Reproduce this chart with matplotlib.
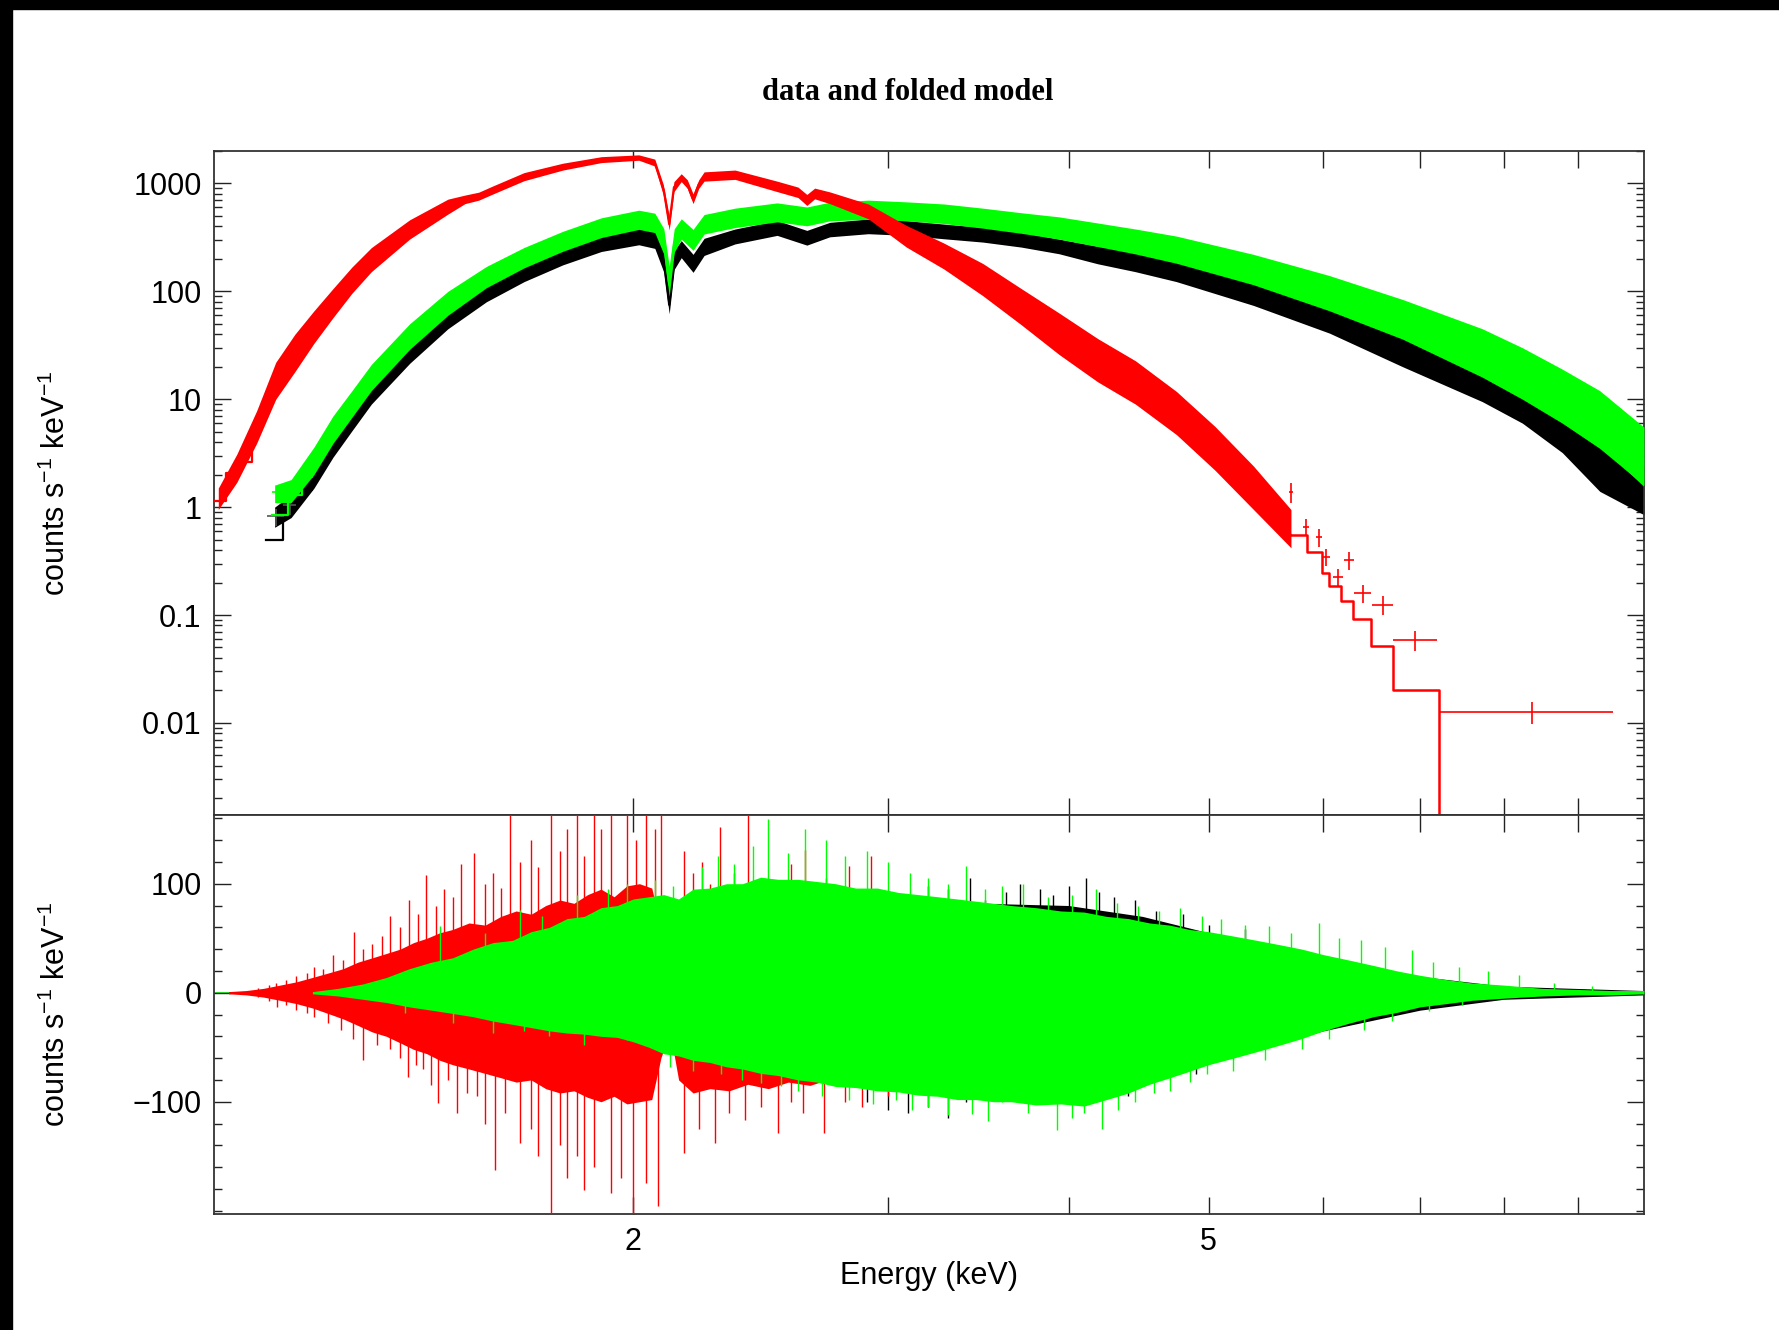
import matplotlib.pyplot as plt
from matplotlib.patches import Rectangle
from matplotlib.ticker import FixedLocator, NullLocator, LogLocator, FuncFormatter, MultipleLocator

plt.rcParams['font.family'] = 'Liberation Sans'
plt.rcParams['mathtext.fontset'] = 'custom'
plt.rcParams['mathtext.rm'] = 'Liberation Sans'
plt.rcParams['mathtext.it'] = 'Liberation Sans'

# ---- upper panel: data bands (lower / upper edge of the error bars) ----
band_E = [1.13, 1.16, 1.203, 1.24, 1.278, 1.318, 1.401, 1.489, 1.583, 1.681,
          1.788, 1.901, 2.018, 2.07, 2.10, 2.118, 2.135, 2.159, 2.20, 2.239,
          2.352, 2.515, 2.637, 2.735, 2.908, 3.09, 3.28, 3.49, 3.71, 3.94,
          4.19, 4.45, 4.75, 5.37, 6.06, 6.81, 7.73, 8.24, 8.78, 9.32, 10.0]
black_lo = [0.65, 0.8, 1.5, 2.9, 5.1, 9.0, 21.5, 45, 80, 123,
            176, 234, 270, 250, 150, 62, 160, 205, 150, 215,
            275, 330, 268, 320, 342, 330, 307, 286, 257, 223,
            180, 152, 123, 74, 41, 20, 9.5, 6.0, 3.2, 1.4, 0.85]
black_hi = [1.0, 1.3, 2.4, 4.6, 8.1, 14.4, 33, 66, 115, 178,
            253, 337, 388, 360, 250, 110, 240, 295, 220, 310,
            378, 453, 367, 436, 468, 452, 420, 392, 352, 305,
            262, 235, 195, 124, 72, 37, 18.5, 12.5, 7.5, 4.0, 2.4]
green_lo = [1.1, 1.1, 2.0, 3.9, 6.8, 12, 29, 60, 108, 165,
            235, 315, 375, 350, 220, 90, 230, 305, 240, 340,
            390, 440, 405, 450, 465, 450, 425, 385, 345, 305,
            260, 222, 182, 115, 66, 36, 16, 10, 6.0, 3.5, 1.6]
green_hi = [1.6, 1.8, 3.6, 7.0, 12, 21, 50, 100, 170, 255,
            360, 480, 565, 530, 380, 170, 380, 470, 375, 515,
            590, 660, 605, 670, 700, 675, 645, 590, 535, 490,
            430, 378, 325, 220, 140, 84, 45, 30, 19, 12, 5.5]

red_E = [1.033, 1.064, 1.098, 1.132, 1.167, 1.203, 1.24, 1.278, 1.318, 1.401,
         1.489, 1.53, 1.564, 1.60, 1.681, 1.788, 1.901, 2.018, 2.07, 2.098,
         2.118, 2.134, 2.159, 2.18, 2.20, 2.22, 2.239, 2.352, 2.515, 2.60,
         2.637, 2.67, 2.735, 2.908, 3.09, 3.28, 3.49, 3.71, 3.94, 4.19,
         4.45, 4.75, 5.05, 5.37, 5.70]
red_lo = [0.95, 1.7, 3.9, 10, 18, 33, 57, 96, 152, 305,
          520, 650, 700, 800, 1060, 1330, 1560, 1640, 1450, 780,
          370, 840, 1040, 900, 650, 900, 1050, 1090, 840, 740,
          625, 720, 650, 470, 257, 161, 91, 49, 26, 14.5,
          9.0, 4.7, 2.2, 0.95, 0.42]
red_hi = [1.5, 3.1, 7.8, 22, 40, 66, 106, 168, 254, 460,
          715, 780, 830, 950, 1260, 1540, 1770, 1840, 1680, 980,
          500, 1040, 1230, 1080, 800, 1080, 1280, 1330, 1050, 925,
          790, 905, 835, 645, 408, 280, 181, 106, 63, 36.5,
          22.7, 11.8, 5.6, 2.4, 0.95]

# isolated data points (crosses)
red_pts_E = [5.70, 5.84, 5.96, 6.03, 6.14, 6.25, 6.39, 6.60, 6.95, 8.37]
red_pts = [1.39, 0.66, 0.53, 0.347, 0.227, 0.324, 0.159, 0.124, 0.0586, 0.0127]
red_pts_xerr = [0.02, 0.03, 0.03, 0.04, 0.05, 0.05, 0.09, 0.11, 0.245, 1.15]
red_pts_yerr = [0.3, 0.12, 0.1, 0.06, 0.04, 0.06, 0.03, 0.025, 0.012, 0.003]
black_pts_E = [1.132, 1.158]
black_pts = [0.82, 1.05]
green_pts_E = [1.14, 1.165]
green_pts = [1.37, 1.6]
low_pts_xerr = [0.015, 0.012]
low_pts_yerr = [0.15, 0.2]

# folded models
mod_E = [1.20, 1.24, 1.30, 1.40, 1.50, 1.60, 1.80, 2.00, 2.07, 2.10,
         2.118, 2.135, 2.16, 2.20, 2.24, 2.35, 2.50, 2.64, 2.75, 3.00,
         3.30, 3.70, 4.20, 4.75, 5.40, 6.10, 6.80, 7.70, 8.20, 8.80, 9.30, 10.0]
black_mod = [1.8, 3.4, 8.0, 24, 55, 95, 200, 300, 290, 190,
             75, 190, 240, 180, 250, 310, 370, 320, 365, 385,
             350, 290, 210, 148, 90, 50, 26, 12.5, 7.0, 4.0, 2.2, 0.92]
green_mod = [2.4, 4.8, 11, 35, 80, 135, 280, 430, 410, 280,
             115, 280, 360, 280, 400, 470, 520, 480, 530, 550,
             505, 420, 325, 235, 150, 88, 50, 24, 14, 7.5, 4.0, 1.6]
red_mod_E = [1.09, 1.13, 1.17, 1.20, 1.24, 1.28, 1.32, 1.40, 1.49, 1.56,
             1.68, 1.79, 1.90, 2.02, 2.07, 2.10, 2.118, 2.134, 2.16, 2.18,
             2.20, 2.22, 2.24, 2.35, 2.52, 2.60, 2.64, 2.67, 2.74, 2.91,
             3.09, 3.28, 3.49, 3.71, 3.94, 4.19, 4.45, 4.75, 5.05, 5.37, 5.70]
red_mod = [5.3, 14, 26, 45, 75, 125, 190, 370, 600, 760,
           1140, 1420, 1650, 1720, 1540, 860, 420, 920, 1120, 980,
           710, 980, 1150, 1190, 930, 820, 700, 800, 720, 540,
           300, 190, 112, 62, 34, 19, 11.5, 6.0, 2.8, 1.2, 0.55]
black_step_E = [1.115, 1.146, 1.17, 1.20]
black_step = [0.495, 0.98, 1.43, 1.8]
green_step_E = [1.125, 1.155, 1.18, 1.20]
green_step = [0.85, 1.3, 1.9, 2.4]
red_step_E = [1.025, 1.045, 1.065, 1.09]
red_step = [1.15, 2.05, 2.6, 5.3]
red_tail_E = [5.70, 5.85, 5.99, 6.06, 6.17, 6.29, 6.48, 6.71, 7.22]
red_tail = [0.55, 0.38, 0.244, 0.186, 0.135, 0.091, 0.0515, 0.0201, 1e-4]

# ---- lower panel: residuals (dense part edges and single spikes) ----
red_core_E = [1.05, 1.08, 1.11, 1.14, 1.17, 1.20, 1.23, 1.26, 1.29, 1.32,
              1.35, 1.38, 1.41, 1.44, 1.47, 1.50, 1.54, 1.58, 1.62, 1.66,
              1.70, 1.74, 1.78, 1.82, 1.86, 1.90, 1.94, 1.98, 2.02, 2.06,
              2.09, 2.12, 2.15, 2.20, 2.26, 2.33, 2.40, 2.48, 2.56, 2.65,
              2.75, 2.85, 2.95, 3.1, 3.3, 3.6, 4.0, 4.5, 5.0, 5.6]
red_core_hi = [1, 2, 4, 7, 10, 14, 18, 22, 28, 32,
               36, 40, 46, 50, 55, 58, 64, 62, 70, 75,
               72, 80, 85, 82, 90, 95, 88, 98, 100, 96,
               60, 30, 70, 88, 80, 85, 78, 82, 75, 72,
               66, 62, 58, 50, 42, 35, 26, 18, 10, 3]
red_core_lo = [-1, -2, -4, -7, -10, -14, -19, -24, -30, -36,
               -40, -46, -52, -56, -62, -66, -70, -74, -78, -82,
               -80, -88, -92, -90, -96, -100, -95, -102, -100, -98,
               -60, -35, -80, -92, -88, -90, -84, -88, -82, -85,
               -78, -72, -68, -58, -48, -40, -30, -20, -11, -3]
red_up_E = [1.10, 1.12, 1.133, 1.15, 1.17, 1.19, 1.203, 1.22, 1.24, 1.26,
            1.283, 1.30, 1.32, 1.34, 1.358, 1.38, 1.40, 1.42, 1.437, 1.46,
            1.48, 1.50, 1.52, 1.553, 1.58, 1.60, 1.62, 1.644, 1.67, 1.70,
            1.72, 1.754, 1.78, 1.80, 1.83, 1.85, 1.88, 1.90, 1.93, 1.98,
            2.01, 2.04, 2.07, 2.09, 2.17, 2.20, 2.23, 2.26, 2.297, 2.33,
            2.35, 2.40, 2.45, 2.50, 2.57, 2.63, 2.72, 2.82, 2.92, 3.05]
red_up = [4, 7, 9, 12, 15, 18, 24, 22, 35, 30,
          56, 40, 45, 52, 70, 60, 85, 72, 108, 80,
          95, 88, 118, 128, 100, 110, 96, 165, 120, 140,
          115, 165, 130, 150, 165, 125, 165, 150, 165, 165,
          140, 165, 150, 165, 130, 110, 120, 100, 152, 95,
          110, 165, 105, 100, 118, 131, 105, 116, 125, 90]
red_dn_E = [1.10, 1.12, 1.135, 1.15, 1.17, 1.19, 1.203, 1.23, 1.256, 1.28,
            1.30, 1.33, 1.358, 1.38, 1.397, 1.415, 1.43, 1.45, 1.465, 1.49,
            1.51, 1.535, 1.56, 1.58, 1.605, 1.63, 1.67, 1.70, 1.72, 1.754,
            1.78, 1.80, 1.83, 1.85, 1.88, 1.93, 1.96, 2.0, 2.04, 2.08,
            2.17, 2.22, 2.28, 2.33, 2.39, 2.45, 2.52, 2.57, 2.62, 2.71,
            2.80, 2.88, 3.0]
red_dn = [-4, -8, -13, -11, -16, -19, -22, -28, -34, -42,
          -62, -48, -52, -60, -77, -66, -70, -85, -101, -80,
          -110, -92, -95, -120, -163, -110, -138, -125, -150, -203,
          -140, -170, -150, -181, -160, -184, -170, -203, -175, -196,
          -147, -125, -138, -110, -117, -105, -129, -100, -110, -129,
          -100, -105, -95]

green_core_E = [1.20, 1.25, 1.30, 1.35, 1.40, 1.45, 1.50, 1.55, 1.60, 1.65,
                1.70, 1.75, 1.80, 1.85, 1.90, 1.95, 2.00, 2.05, 2.10, 2.15,
                2.20, 2.26, 2.32, 2.38, 2.45, 2.52, 2.60, 2.68, 2.76, 2.85,
                2.95, 3.05, 3.15, 3.25, 3.35, 3.45, 3.55, 3.65, 3.80, 3.95,
                4.10, 4.25, 4.40, 4.55, 4.70, 4.85, 5.00, 5.20, 5.40, 5.60,
                5.80, 6.00, 6.25, 6.50, 6.75, 7.00, 7.30, 7.60, 8.00, 8.50,
                9.00, 9.50, 10.0]
green_core_hi = [1, 4, 8, 14, 22, 28, 32, 40, 46, 48,
                 56, 60, 68, 70, 78, 80, 86, 88, 90, 86,
                 95, 96, 100, 100, 106, 104, 104, 102, 100, 96,
                 96, 92, 90, 88, 86, 84, 82, 80, 78, 75,
                 74, 70, 68, 64, 62, 58, 56, 52, 48, 44,
                 40, 35, 30, 25, 20, 16, 12, 9, 7, 4,
                 3, 2, 2]
green_core_lo = [-1, -3, -6, -9, -13, -16, -19, -22, -26, -29,
                 -32, -35, -37, -38, -40, -41, -45, -50, -56, -58,
                 -62, -64, -68, -70, -74, -76, -80, -82, -86, -87,
                 -90, -91, -94, -95, -98, -98, -100, -100, -103, -102,
                 -104, -98, -92, -84, -78, -72, -66, -60, -54, -48,
                 -42, -35, -28, -22, -18, -13, -10, -7, -5, -3,
                 -2, -2, -1]
green_up_E = [1.47, 1.58, 1.67, 1.73, 1.83, 1.92, 1.98, 2.07, 2.13, 2.23,
              2.29, 2.35, 2.42, 2.48, 2.56, 2.63, 2.72, 2.80, 2.90, 3.0,
              3.11, 3.20, 3.30, 3.40, 3.50, 3.60, 3.72, 3.87, 4.02, 4.18,
              4.32, 4.47, 4.62, 4.78, 4.95, 5.1, 5.3, 5.5, 5.7, 5.96,
              6.15, 6.37, 6.62, 6.91, 7.15, 7.45, 7.8, 8.2, 8.66, 9.2]
green_up = [61, 55, 76, 70, 90, 95, 100, 103, 98, 115,
            125, 118, 135, 159, 128, 150, 140, 125, 130, 120,
            110, 105, 100, 116, 95, 98, 100, 88, 90, 95,
            82, 80, 75, 78, 70, 68, 62, 61, 55, 64,
            50, 48, 42, 39, 28, 24, 20, 16, 9, 6]
green_dn_E = [1.39, 1.5, 1.6, 1.68, 1.75, 1.85, 1.98, 2.12, 2.2, 2.3,
              2.38, 2.45, 2.53, 2.6, 2.7, 2.82, 2.93, 3.04, 3.12, 3.2,
              3.3, 3.43, 3.52, 3.6, 3.75, 3.93, 4.02, 4.1, 4.22, 4.33,
              4.45, 4.58, 4.7, 4.85, 4.99, 5.2, 5.47, 5.8, 6.06, 6.4,
              6.69, 7.1, 7.49]
green_dn = [-19, -28, -37, -35, -40, -48, -43, -68, -72, -75,
            -80, -83, -86, -90, -95, -98, -102, -98, -108, -105,
            -112, -111, -118, -100, -110, -126, -115, -110, -125, -108,
            -100, -92, -90, -82, -75, -72, -62, -52, -42, -34,
            -26, -17, -11]

black_core_E = [1.2, 1.5, 2.0, 2.5, 3.0, 3.5, 4.0, 4.5, 5.0, 6.0, 7.0, 8.0, 10.0]
black_core_hi = [1, 30, 70, 85, 85, 82, 80, 70, 55, 30, 15, 6, 2]
black_core_lo = [-1, -20, -40, -65, -80, -90, -95, -85, -65, -35, -16, -6, -2]
black_up_E = [3.2, 3.3, 3.42, 3.5, 3.62, 3.7, 3.82, 3.9, 4.0, 4.11,
              4.2, 4.3, 4.45, 4.6, 4.8, 5.0, 5.3]
black_up = [98, 95, 105, 85, 92, 100, 95, 90, 98, 105,
            92, 88, 85, 75, 72, 62, 58]
black_dn_E = [2.9, 3.0, 3.1, 3.2, 3.3, 3.4, 3.5, 3.7, 4.4, 4.9]
black_dn = [-100, -108, -110, -105, -115, -100, -95, -98, -95, -75]

RED = '#ff0000'
GREEN = '#00ff00'
BLACK = '#000000'

fig = plt.figure(figsize=(17.79, 13.30), dpi=100)
ax1 = fig.add_axes([0.1203, 0.3872, 0.8038, 0.4993])
ax2 = fig.add_axes([0.1203, 0.0872, 0.8038, 0.3000])

# upper panel
ax1.fill_between(band_E, black_lo, black_hi, color=BLACK, lw=0, zorder=2)
ax1.plot(mod_E, black_mod, color=BLACK, lw=1.6, zorder=2)
ax1.step(black_step_E, black_step, where='post', color=BLACK, lw=1.6, zorder=2)
ax1.errorbar(black_pts_E, black_pts, xerr=low_pts_xerr, yerr=low_pts_yerr,
             fmt='none', ecolor='#555555', elinewidth=1.2, zorder=2)

ax1.fill_between(band_E, green_lo, green_hi, color=GREEN, lw=0, zorder=3)
ax1.plot(mod_E, green_mod, color=GREEN, lw=1.6, zorder=3)
ax1.step(green_step_E, green_step, where='post', color=GREEN, lw=1.6, zorder=3)
ax1.errorbar(green_pts_E, green_pts, xerr=low_pts_xerr, yerr=low_pts_yerr,
             fmt='none', ecolor=GREEN, elinewidth=1.2, zorder=3)

ax1.fill_between(red_E, red_lo, red_hi, color=RED, lw=0, zorder=4)
ax1.plot(red_mod_E, red_mod, color=RED, lw=1.6, zorder=4)
ax1.step(red_step_E, red_step, where='post', color=RED, lw=1.6, zorder=4)
ax1.step(red_tail_E, red_tail, where='post', color=RED, lw=1.8, zorder=4)
ax1.errorbar(red_pts_E, red_pts, xerr=red_pts_xerr, yerr=red_pts_yerr,
             fmt='none', ecolor=RED, elinewidth=1.2, zorder=4)

ax1.set_xscale('log')
ax1.set_yscale('log')
ax1.set_xlim(1.026, 10.0)
ax1.set_ylim(0.0014, 2000)

# lower panel
ax2.fill_between(black_core_E, black_core_lo, black_core_hi, color=BLACK, lw=0, zorder=2)
ax2.vlines(black_up_E, 0, black_up, color=BLACK, lw=1.0, zorder=2)
ax2.vlines(black_dn_E, 0, black_dn, color=BLACK, lw=1.0, zorder=2)
ax2.fill_between(red_core_E, red_core_lo, red_core_hi, color=RED, lw=0, zorder=3)
ax2.vlines(red_up_E, 0, red_up, color=RED, lw=1.0, zorder=3)
ax2.vlines(red_dn_E, 0, red_dn, color=RED, lw=1.0, zorder=3)
ax2.fill_between(green_core_E, green_core_lo, green_core_hi, color=GREEN, lw=0, zorder=4)
ax2.vlines(green_up_E, 0, green_up, color=GREEN, lw=1.0, zorder=4)
ax2.vlines(green_dn_E, 0, green_dn, color=GREEN, lw=1.0, zorder=4)
ax2.axhline(0, color=GREEN, lw=1.2, zorder=1)

ax2.set_xscale('log')
ax2.set_xlim(1.026, 10.0)
ax2.set_ylim(-203, 163)

xt = [2, 3, 4, 5, 6, 7, 8, 9]
for ax in (ax1, ax2):
    ax.xaxis.set_major_locator(FixedLocator(xt))
    ax.xaxis.set_minor_locator(NullLocator())
    ax.tick_params(which='both', direction='in', top=True, right=True,
                   labelsize=22, width=1.0, color='#222222')
    ax.tick_params(which='major', length=12, pad=9)
    ax.tick_params(which='minor', length=6)
    for s in ax.spines.values():
        s.set_linewidth(1.3)
        s.set_color('#333333')
    ax.set_ylabel(r'counts s$^{-1}$ keV$^{-1}$', fontsize=22)
    ax.yaxis.set_label_coords(-0.0993, 0.5)

ax1.xaxis.set_major_formatter(FuncFormatter(lambda v, p: ''))
ax2.xaxis.set_major_formatter(FuncFormatter(lambda v, p: '%g' % v if v in (2, 5) else ''))
ax1.yaxis.set_major_locator(FixedLocator([0.01, 0.1, 1, 10, 100, 1000]))
ax1.yaxis.set_minor_locator(LogLocator(base=10, subs=range(2, 10), numticks=20))
ax1.yaxis.set_major_formatter(FuncFormatter(lambda v, p: '%g' % v))
ax2.yaxis.set_major_locator(FixedLocator([-100, 0, 100]))
ax2.yaxis.set_minor_locator(MultipleLocator(20))
ax2.yaxis.set_major_formatter(FuncFormatter(lambda v, p: '%d' % v if v >= 0 else '\u2212%d' % -v))
ax2.set_xlabel('Energy (keV)', fontsize=22, labelpad=3)

fig.text(0.5104, 0.9308, 'data and folded model', ha='center', va='center',
         family='Liberation Serif', weight='bold', fontsize=22)

# dark frame strips of the screenshot
fig.patches.append(Rectangle((0, 1 - 9 / 1330), 1, 9 / 1330, transform=fig.transFigure,
                             color='black', zorder=10))
fig.patches.append(Rectangle((0, 0), 12 / 1779, 1, transform=fig.transFigure,
                             color='black', zorder=10))

fig.savefig('out.png', dpi=100)
